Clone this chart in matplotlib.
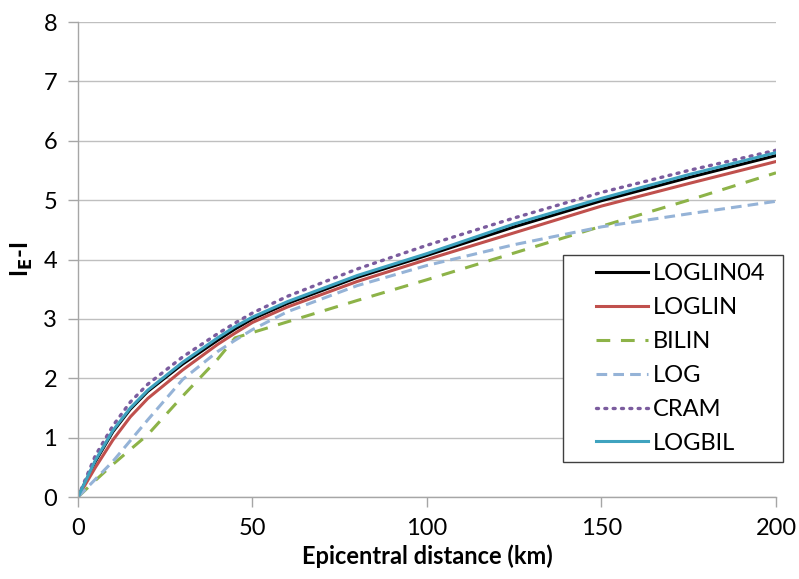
import matplotlib
matplotlib.use("Agg")
import matplotlib.pyplot as plt
from matplotlib.patches import Rectangle

# ---- data ----
distance = [0, 5, 10, 15, 20, 30, 40, 45, 50, 60, 80, 100, 125, 150, 175, 200]

loglin04 = [0, 0.60, 1.10, 1.48, 1.78, 2.24, 2.64, 2.83, 3.00, 3.26, 3.70, 4.07, 4.55, 4.99, 5.38, 5.75]
loglin = [0, 0.50, 0.96, 1.35, 1.66, 2.14, 2.57, 2.76, 2.94, 3.20, 3.63, 4.00, 4.45, 4.90, 5.28, 5.65]
bilin = [0, 0.28, 0.55, 0.80, 1.05, 1.70, 2.32, 2.68, 2.77, 2.95, 3.31, 3.66, 4.11, 4.56, 5.00, 5.46]
log = [0, 0.30, 0.60, 0.95, 1.30, 1.98, 2.45, 2.64, 2.82, 3.12, 3.56, 3.90, 4.25, 4.55, 4.77, 4.98]
cram = [0, 0.70, 1.20, 1.60, 1.90, 2.36, 2.75, 2.93, 3.10, 3.38, 3.84, 4.24, 4.70, 5.13, 5.50, 5.84]
logbil = [0, 0.62, 1.12, 1.50, 1.80, 2.27, 2.68, 2.87, 3.03, 3.29, 3.73, 4.10, 4.60, 5.03, 5.43, 5.80]

series = [
    ("LOGLIN04", loglin04, "#000000", "-"),
    ("LOGLIN", loglin, "#C0504D", "-"),
    ("BILIN", bilin, "#8DB348", (0, (4.5, 3.5))),
    ("LOG", log, "#95B3D7", (0, (3.5, 2))),
    ("CRAM", cram, "#7B5C9E", (0, (0.6, 1.9))),
    ("LOGBIL", logbil, "#3FA3BF", "-"),
]

plt.rcParams["font.family"] = ["Lato", "DejaVu Sans"]
FS = 17

fig = plt.figure(figsize=(7.99, 5.79), dpi=100, facecolor="white")
ax = fig.add_axes([0.0976, 0.1416, 0.8736, 0.8204])

for name, vals, color, ls in series:
    kw = dict(color=color, linestyle=ls, linewidth=2.2, label=name)
    if name == "CRAM":
        kw["dash_capstyle"] = "round"
        kw["linewidth"] = 2.4
    ax.plot(distance, vals, **kw)

ax.set_xlim(0, 200)
ax.set_ylim(0, 8)
ax.set_xticks([0, 50, 100, 150, 200])
ax.set_yticks(range(0, 9))
ax.yaxis.grid(True, color="#BFBFBF", linewidth=1.0)
ax.set_axisbelow(True)

for side in ["top", "right"]:
    ax.spines[side].set_visible(False)
for side in ["left", "bottom"]:
    ax.spines[side].set_color("#A6A6A6")
    ax.spines[side].set_linewidth(1.0)

ax.tick_params(axis="both", colors="#A6A6A6", labelcolor="black",
               labelsize=FS, length=7, width=1.0, direction="out")
ax.tick_params(axis="y", pad=8)
ax.tick_params(axis="x", pad=8)

ax.set_xlabel("Epicentral distance (km)", fontsize=FS, fontweight="bold", labelpad=4)
ax.set_ylabel(r"I$_\mathbf{E}$-I", fontsize=FS, fontweight="bold", labelpad=6)

# legend box (Excel-style, wide padding on the sides)
box = Rectangle((0.695, 0.0737), 0.315, 0.435, transform=ax.transAxes,
                facecolor="white", edgecolor="#404040", linewidth=1.0,
                clip_on=False, zorder=4)
ax.add_patch(box)

leg = ax.legend(loc="upper left", bbox_to_anchor=(0.742, 0.493), fontsize=FS,
                frameon=False, handlelength=2.2, handletextpad=0.2,
                labelspacing=0.55, borderpad=0.0, borderaxespad=0)
leg.set_zorder(5)

fig.savefig("out.png", dpi=100, facecolor="white")
